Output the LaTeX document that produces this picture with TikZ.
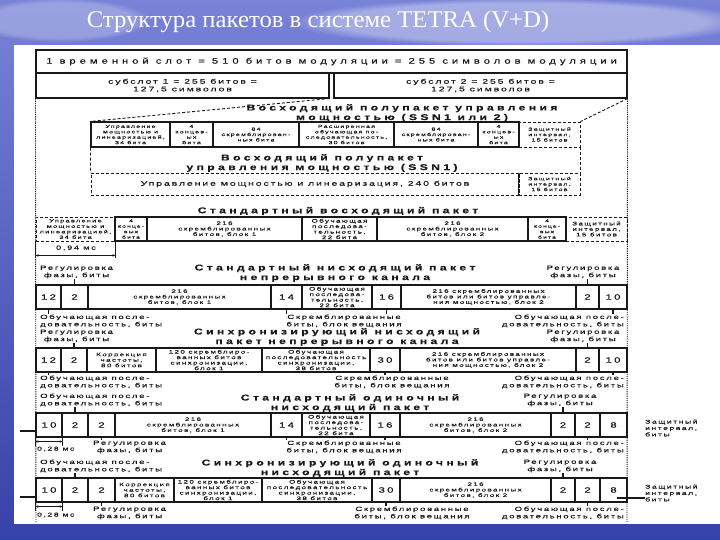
\documentclass[tikz,border=0pt]{standalone}
\usepackage{fontspec}
\setmainfont{Liberation Sans}
\newfontfamily\ttlfont[FakeStretch=1.03]{Liberation Serif}
\newfontfamily\scanX[FakeStretch=1.4,LetterSpace=50,FakeBold=0.4]{Liberation Sans}
\newfontfamily\scanW[FakeStretch=1.5,LetterSpace=30,FakeBold=0.4]{Liberation Sans}
\newfontfamily\scanS[FakeStretch=1.6,LetterSpace=28,FakeBold=0.4]{Liberation Sans}
\newfontfamily\scanH[FakeStretch=1.45,LetterSpace=40,FakeBold=0.3]{Liberation Sans}
\usetikzlibrary{arrows.meta,fadings}
\definecolor{bgT}{RGB}{120,130,215}
\definecolor{bgB}{RGB}{55,65,170}
\definecolor{ink}{RGB}{25,25,25}
\newcommand\pbox[7][]{%
  \pgfmathsetmacro\pbw{#4-#3}%
  \pgfmathsetmacro\pbh{#6-#5}%
  \node[cell,minimum width=\pbw pt,minimum height=\pbh pt,#1] (#2) at ({(#3+#4)/2},{(#5+#6)/2}) {#7};}
\begin{document}
\begin{tikzpicture}[x=1pt,y=-1pt,
  cell/.style={draw=ink,line width=1.1pt,inner sep=0pt,align=center,text=ink,
     font=\scanS\fontsize{5}{5.5}\selectfont},
  ssn/.style={font=\scanS\fontsize{4.4}{5.4}\selectfont},
  nar/.style={font=\scanS\fontsize{4.2}{5.5}\selectfont},
  nar2/.style={font=\scanS\fontsize{4.6}{5.5}\selectfont},
  num/.style={font=\scanW\fontsize{7.6}{8}\selectfont},
  mid/.style={font=\scanS\fontsize{6.6}{7.6}\selectfont},
  hdr/.style={align=center,inner sep=0pt,text=ink,font=\scanH\bfseries\fontsize{8.4}{9.6}\selectfont},
  lbl/.style={align=center,inner sep=0pt,text=ink,font=\scanS\fontsize{6}{7.3}\selectfont},
  tick/.style={draw=ink,line width=1.1pt},
  dots/.style={draw=ink,line width=0.9pt,dash pattern=on 1.2pt off 1pt},
  dsh/.style={draw=ink,line width=0.9pt,dash pattern=on 3pt off 2pt},
  arr/.style={draw=ink,line width=0.8pt,{Stealth[length=3pt,width=2.5pt]}-{Stealth[length=3pt,width=2.5pt]}}]
\useasboundingbox (0,0) rectangle (720,540);
% background
\shade[top color=bgT,bottom color=bgB] (0,0) rectangle (720,540);
\fill[white,opacity=0.35,path fading=circle with fuzzy edge 20 percent] (520,22) ellipse (230 and 24);
\fill[white,opacity=0.25,path fading=circle with fuzzy edge 20 percent] (60,20) ellipse (90 and 22);
\node[font=\ttlfont\fontsize{24}{27}\selectfont,text=white] (title) at (318,22) {Структура пакетов в системе TETRA (V+D)};
% sheet
\fill[white] (14,45) rectangle (720,524);
% slot rows
\pbox[font=\scanX\fontsize{8}{9}\selectfont]{slot}{36}{627}{50}{73}{1 временной слот = 510 битов модуляции = 255 символов модуляции}
\pbox[mid]{sub1}{36}{329}{73}{98}{субслот 1 = 255 битов =\\127,5 символов}
\pbox[mid]{sub2}{334}{627}{73}{98}{субслот 2 = 255 битов =\\127,5 символов}
\draw[dots] (sub1.south west) -- (36,523);
\draw[dots] (sub2.south east) -- (627,523);
% SSN 1 or 2
\node[hdr] (h0) at (402,113) {Восходящий полупакет управления\\мощностью (SSN1 или 2)};
\pbox[ssn]{s1}{91}{170}{122}{147}{Управление\\мощностью и\\линеаризацией,\\34 бита}
\pbox[ssn]{s2}{170}{213}{122}{147}{4\\концев-\\ых\\бита}
\pbox[ssn]{s3}{213}{299}{122}{147}{84\\скремблирован-\\ных бита}
\pbox[ssn]{s4}{299}{394}{122}{147}{Расширенная\\обучающая по-\\следовательность,\\30 битов}
\pbox[ssn]{s5}{394}{478}{122}{147}{84\\скремблирован-\\ных бита}
\pbox[ssn]{s6}{478}{519}{122}{147}{4\\концев-\\ых\\бита}
\pbox[dsh,ssn]{s7}{519}{580}{122}{147}{Защитный\\интервал,\\15 битов}
\draw[tick] (s7.north west) -- (s7.south west);
\draw[dsh] (sub1.south east) -- (s1.north west);
\draw[dsh] (sub2.south east) -- (s7.north east);
\node[hdr] (h1) at (322,163) {Восходящий полупакет\\управления мощностью (SSN1)};
\pbox[dsh,mid]{t1}{91}{519}{173}{195}{Управление мощностью и линеаризация, 240 битов}
\pbox[dsh,ssn]{t2}{519}{580}{173}{195}{Защитный\\интервал,\\15 битов}
\draw[tick] (t2.north west) -- (t2.south west);
\draw[dsh] (s1.south west) -- (t1.north west);
\draw[dsh] (s7.south east) -- (t2.north east);
% standard uplink
\node[hdr] (h2) at (338,211) {Стандартный восходящий пакет};
\pbox[dsh,nar2]{u1}{36}{115}{217}{241}{Управление\\мощностью и\\линеаризацией,\\34 бита}
\pbox[nar]{u2}{115}{147}{217}{241}{4\\конце-\\вых\\бита}
\pbox{u3}{147}{302}{217}{241}{216\\скремблированных\\битов, блок 1}
\pbox{u4}{302}{377}{217}{241}{Обучающая\\последова-\\тельность,\\22 бита}
\pbox{u5}{377}{528}{217}{241}{216\\скремблированных\\битов, блок 2}
\pbox[nar]{u6}{528}{566}{217}{241}{4\\конце-\\вых\\бита}
\pbox[dsh]{u7}{566}{627}{217}{241}{Защитный\\интервал,\\15 битов}
\draw[tick] (u1.south west) -- ++(0,17);
\draw[tick] (u1.south east) -- ++(0,17);
\draw[arr] ([yshift=-14pt]u1.south west) -- ([yshift=-14pt]u1.south east);
\node[lbl,font=\scanW\fontsize{6}{7}\selectfont] (ms1) at (76,248) {0,94 мс};
% standard downlink continuous
\node[hdr] (h3) at (335,273) {Стандартный нисходящий пакет\\непрерывного канала};
\pbox[num]{a1}{36}{61}{285}{309}{12}
\pbox[num]{a2}{61}{88}{285}{309}{2}
\pbox{a3}{88}{271}{285}{309}{216\\скремблированных\\битов, блок 1}
\pbox[num]{a4}{271}{302}{285}{309}{14}
\pbox{a5}{302}{372}{285}{309}{Обучающая\\последова-\\тельность,\\22 бита}
\pbox[num]{a6}{372}{401}{285}{309}{16}
\pbox{a7}{401}{576}{285}{309}{216 скремблированных\\битов или битов управле-\\ния мощностью, блок 2}
\pbox[num]{a8}{576}{599}{285}{309}{2}
\pbox[num]{a9}{599}{627}{285}{309}{10}
\node[lbl,anchor=west] (atl) at (40,272) {Регулировка\\фазы, биты};
\node[lbl] (atr) at (583,272) {Регулировка\\фазы, биты};
\node[lbl,anchor=west,align=left] (abl) at (40,321) {Обучающая после-\\довательность, биты};
\node[lbl] (abm) at (344,321) {Скремблированные\\биты, блок вещания};
\node[lbl,anchor=east,align=right] (abr) at (624,321) {Обучающая после-\\довательность, биты};
\draw[tick] (a2.north) -- (a2.north |- atl.south);
\draw[tick] (a8.north) -- (a8.north |- atr.south);
\draw[tick] (a1.south) -- (a1.south |- abl.north);
\draw[tick] (a4.south) -- (a4.south |- abm.north);
\draw[tick] (a6.south) -- (a6.south |- abm.north);
\draw[tick] (a9.south) -- (a9.south |- abr.north);
% sync downlink continuous
\node[hdr] (h4) at (337,337) {Синхронизирующий нисходящий\\пакет непрерывного канала};
\pbox[num]{b1}{36}{61}{348}{372}{12}
\pbox[num]{b2}{61}{87}{348}{372}{2}
\pbox{b3}{87}{156}{348}{372}{Коррекция\\частоты,\\80 битов}
\pbox{b4}{156}{262}{348}{372}{120 скремблиро-\\ванных битов\\синхронизации,\\блок 1}
\pbox{b5}{262}{370}{348}{372}{Обучающая\\последовательность\\синхронизации,\\38 битов}
\pbox[num]{b6}{370}{400}{348}{372}{30}
\pbox{b7}{400}{576}{348}{372}{216 скремблированных\\битов или битов управле-\\ния мощностью, блок 2}
\pbox[num]{b8}{576}{599}{348}{372}{2}
\pbox[num]{b9}{599}{627}{348}{372}{10}
\node[lbl,anchor=west] (btl) at (40,336) {Регулировка\\фазы, биты};
\node[lbl] (btr) at (583,336) {Регулировка\\фазы, биты};
\node[lbl,anchor=west,align=left] (bbl) at (40,382) {Обучающая после-\\довательность, биты};
\node[lbl] (bbm) at (392,382) {Скремблированные\\биты, блок вещания};
\node[lbl,anchor=east,align=right] (bbr) at (624,382) {Обучающая после-\\довательность, биты};
\draw[tick] (b2.north) -- (b2.north |- btl.south);
\draw[tick] (b8.north) -- (b8.north |- btr.south);
\draw[tick] (b1.south) -- (b1.south |- bbl.north);
\draw[tick] (b6.south) -- (b6.south |- bbm.north);
\draw[tick] (b9.south) -- (b9.south |- bbr.north);
% standard single downlink
\node[hdr] (h5) at (350,403) {Стандартный одиночный\\нисходящий пакет};
\pbox[num]{c1}{36}{62}{413}{437}{10}
\pbox[num]{c2}{62}{88}{413}{437}{2}
\pbox[num]{c3}{88}{115}{413}{437}{2}
\pbox{c4}{115}{271}{413}{437}{216\\скремблированных\\битов, блок 1}
\pbox[num]{c5}{271}{302}{413}{437}{14}
\pbox{c6}{302}{370}{413}{437}{Обучающая\\последова-\\тельность,\\22 бита}
\pbox[num]{c7}{370}{400}{413}{437}{16}
\pbox{c8}{400}{551}{413}{437}{216\\скремблированных\\битов, блок 2}
\pbox[num]{c9}{551}{575}{413}{437}{2}
\pbox[num]{c10}{575}{600}{413}{437}{2}
\pbox[num]{c11}{600}{627}{413}{437}{8}
\node[lbl,anchor=west,align=left] (ctl) at (40,400) {Обучающая после-\\довательность, биты};
\node[lbl] (ctr) at (560,400) {Регулировка\\фазы, биты};
\node[lbl,anchor=west] (cbl) at (93,447) {Регулировка\\фазы, биты};
\node[lbl] (cbm) at (344,447) {Скремблированные\\биты, блок вещания};
\node[lbl,anchor=east,align=right] (cbr) at (624,447) {Обучающая после-\\довательность, биты};
\draw[tick] (c2.north) -- (c2.north |- ctl.south);
\draw[tick] (c9.north) -- (c9.north |- ctr.south);
\draw[tick] (c3.south) -- (c3.south |- cbl.north);
\draw[tick] (c5.south) -- (c5.south |- cbm.north);
\draw[tick] (c7.south) -- (c7.south |- cbm.north);
\draw[tick] (c10.south) -- (c10.south |- cbr.north);
\draw[tick] (c1.south west) -- ++(0,8);
\draw[tick] (c1.south east) -- ++(0,8);
\draw[arr] ([yshift=-4pt]c1.south west) -- ([yshift=-4pt]c1.south east);
\node[lbl,anchor=west,font=\scanW\fontsize{5.6}{7}\selectfont] (ms2) at (37,449) {0,28 мс};
% sync single downlink
\node[hdr] (h6) at (340,468) {Синхронизирующий одиночный\\нисходящий пакет};
\pbox[num]{d1}{36}{62}{478}{502}{10}
\pbox[num]{d2}{62}{88}{478}{502}{2}
\pbox[num]{d3}{88}{115}{478}{502}{2}
\pbox{d4}{115}{174}{478}{502}{Коррекция\\частоты,\\80 битов}
\pbox{d5}{174}{262}{478}{502}{120 скремблиро-\\ванных битов\\синхронизации,\\блок 1}
\pbox{d6}{262}{372}{478}{502}{Обучающая\\последовательность\\синхронизации,\\38 битов}
\pbox[num]{d7}{372}{400}{478}{502}{30}
\pbox{d8}{400}{551}{478}{502}{216\\скремблированных\\битов, блок 2}
\pbox[num]{d9}{551}{575}{478}{502}{2}
\pbox[num]{d10}{575}{600}{478}{502}{2}
\pbox[num]{d11}{600}{627}{478}{502}{8}
\node[lbl,anchor=west,align=left] (dtl) at (40,466) {Обучающая после-\\довательность, биты};
\node[lbl] (dtr) at (560,466) {Регулировка\\фазы, биты};
\node[lbl,anchor=west] (dbl) at (93,513) {Регулировка\\фазы, биты};
\node[lbl] (dbm) at (412,513) {Скремблированные\\биты, блок вещания};
\node[lbl,anchor=east,align=right] (dbr) at (624,513) {Обучающая после-\\довательность, биты};
\draw[tick] (d2.north) -- (d2.north |- dtl.south);
\draw[tick] (d9.north) -- (d9.north |- dtr.south);
\draw[tick] (d3.south) -- (d3.south |- dbl.north);
\draw[tick] (d7.south) -- (d7.south |- dbm.north);
\draw[tick] (d10.south) -- (d10.south |- dbr.north);
\draw[tick] (d1.south west) -- ++(0,8);
\draw[tick] (d1.south east) -- ++(0,8);
\draw[arr] ([yshift=-4pt]d1.south west) -- ([yshift=-4pt]d1.south east);
\node[lbl,anchor=west,font=\scanW\fontsize{5.6}{7}\selectfont] (ms3) at (37,515) {0,28 мс};
% guard interval notes and stubs
\node[lbl,anchor=west,align=left,font=\scanS\fontsize{5.4}{6.4}\selectfont] (g1) at (645,428) {Защитный\\интервал,\\биты};
\node[lbl,anchor=west,align=left,font=\scanS\fontsize{5.4}{6.4}\selectfont] (g2) at (645,493) {Защитный\\интервал,\\биты};
\coordinate (stL1) at (20,431);
\coordinate (stL2) at (20,497);
\coordinate (stR) at (617,498);
\draw[tick] (stL1) -- (stL1 -| c1.west);
\draw[tick] (stL2) -- (stL2 -| d1.west);
\draw[tick] (stR) -- (stR -| g2.west);
\end{tikzpicture}
\end{document}
